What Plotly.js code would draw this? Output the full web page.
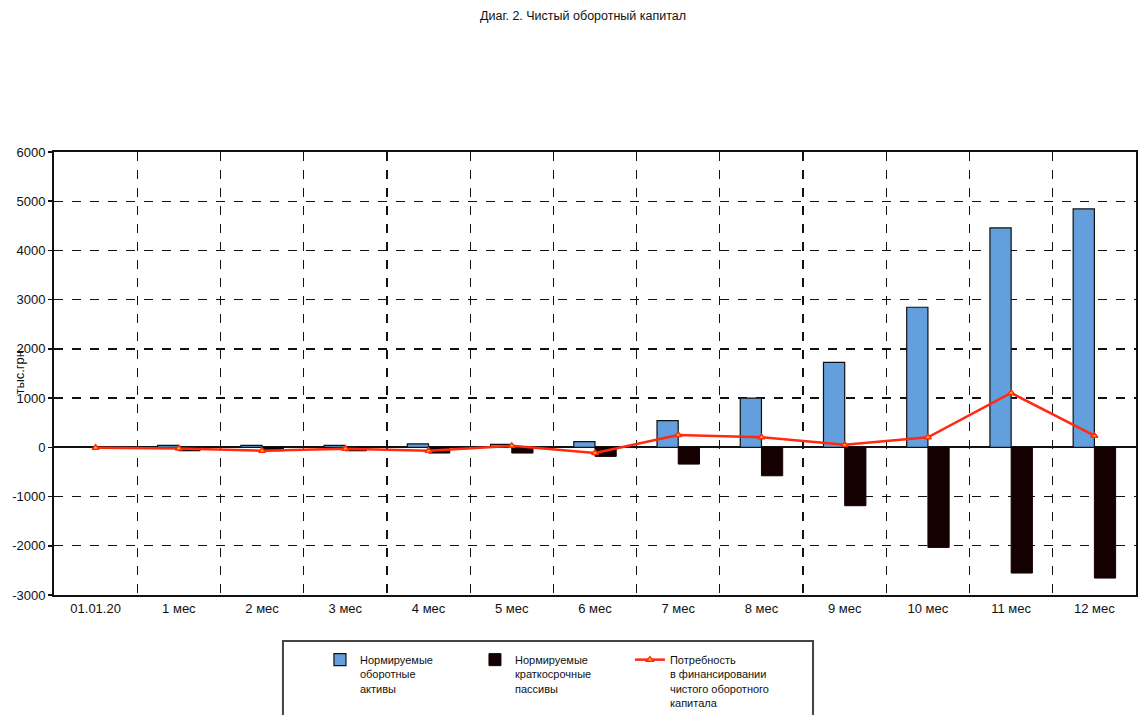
<!DOCTYPE html>
<html>
<head>
<meta charset="utf-8">
<script src="https://cdn.plot.ly/plotly-3.0.1.min.js"></script>
<style>html,body{margin:0;padding:0;background:#fff;}#chart{width:1141px;height:715px;}</style>
</head>
<body>
<div id="chart"></div>
<script>
const categories = ["01.01.20","1 мес","2 мес","3 мес","4 мес","5 мес","6 мес","7 мес","8 мес","9 мес","10 мес","11 мес","12 мес"];
const assets = [0, 40, 40, 40, 70, 60, 116, 544, 1000, 1728, 2846, 4458, 4844];
const liabilities = [0, -70, -70, -70, -116, -116, -184, -340, -578, -1186, -2033, -2554, -2656];
const need = [-10, -25, -70, -30, -68, 30, -116, 252, 204, 54, 203, 1104, 237];
const yTicks = [-3000,-2000,-1000,0,1000,2000,3000,4000,5000,6000];

const font = {family: "Liberation Sans, Arial, sans-serif", color: "#111"};

const traces = [
  {type: "bar", name: "Нормируемые<br>оборотные<br>активы", x: categories, y: assets,
   marker: {color: "#629fdc", line: {color: "#111", width: 1.2}}},
  {type: "bar", name: "Нормируемые<br>краткосрочные<br>пассивы", x: categories, y: liabilities,
   marker: {color: "#140000", line: {color: "#140000", width: 1}}},
  {type: "scatter", mode: "lines+markers", name: "Потребность<br>в финансировании<br>чистого оборотного<br>капитала",
   x: categories, y: need,
   line: {color: "#ff2a10", width: 2.5},
   marker: {symbol: "triangle-up", size: 6, color: "#ffc400", line: {color: "#ff2a10", width: 1.5}}}
];

const layout = {
  width: 1141, height: 715,
  margin: {l: 54, r: 5, t: 152, b: 120, autoexpand: false},
  paper_bgcolor: "#fff", plot_bgcolor: "#fff",
  font: Object.assign({size: 13}, font),
  title: {text: "Диаг. 2. Чистый оборотный капитал", x: 0.511, xanchor: "center", y: 0.978, yanchor: "middle",
          font: Object.assign({size: 12.5}, font)},
  barmode: "group", bargap: 0.49, bargroupgap: 0,
  showlegend: true,
  legend: {orientation: "h", x: 0.2458, xanchor: "left", y: -0.1151, yanchor: "top",
           borderwidth: 0, bgcolor: "rgba(0,0,0,0)",
           font: Object.assign({size: 11}, font), valign: "top",
           entrywidth: 110, entrywidthmode: "pixels", traceorder: "normal", itemwidth: 30},
  xaxis: {type: "category", range: [-0.5, 12.5], tickson: "boundaries", showgrid: true, gridcolor: "#111", griddash: "dash", gridwidth: 1.3,
          showline: true, linecolor: "#111", linewidth: 2, mirror: true, ticks: "", ticklen: 0,
          tickfont: Object.assign({size: 13}, font), zeroline: false, fixedrange: true, automargin: false},
  yaxis: {range: [-3000, 6000], tickvals: yTicks, ticktext: yTicks.map(String),
          showgrid: true, gridcolor: "#111", griddash: "dash", gridwidth: 1.3,
          showline: true, linecolor: "#111", linewidth: 2, mirror: true,
          ticks: "outside", ticklen: 4, tickwidth: 1.5, tickcolor: "#111",
          zeroline: true, zerolinecolor: "#111", zerolinewidth: 2,
          tickfont: Object.assign({size: 13}, font), fixedrange: true, automargin: false},
  shapes: [
    {type: "rect", xref: "paper", yref: "paper", x0: 0.2116, x1: 0.7015, y0: -0.1038, y1: -0.30,
     line: {color: "#444", width: 2}, fillcolor: "rgba(0,0,0,0)", layer: "above"}
  ],
  annotations: [
    {text: "тыс.грн", xref: "paper", yref: "paper", x: -0.032, y: 0.503, xanchor: "center", yanchor: "middle",
     textangle: -90, showarrow: false, font: Object.assign({size: 13}, font)}
  ]
};

Plotly.newPlot("chart", traces, layout, {displayModeBar: false, staticPlot: true});
</script>
</body>
</html>
